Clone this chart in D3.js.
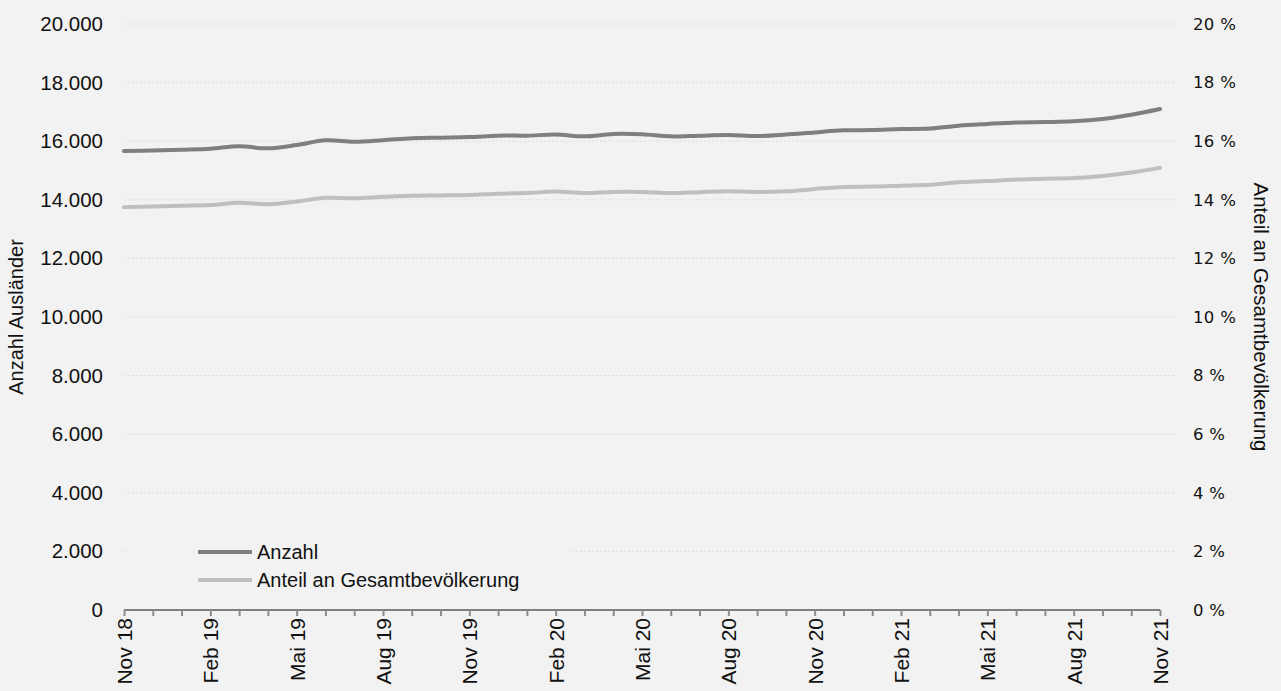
<!DOCTYPE html>
<html><head><meta charset="utf-8">
<script src="https://cdn.jsdelivr.net/npm/d3@7"></script>
<style>
html,body{margin:0;padding:0;background:#f2f2f2;}
svg{display:block;}
</style></head>
<body>
<svg id="chart" width="1281" height="691"></svg>
<script>
const months = ["Nov 18","Dez 18","Jan 19","Feb 19","Mär 19","Apr 19","Mai 19","Jun 19","Jul 19","Aug 19","Sep 19","Okt 19","Nov 19","Dez 19","Jan 20","Feb 20","Mär 20","Apr 20","Mai 20","Jun 20","Jul 20","Aug 20","Sep 20","Okt 20","Nov 20","Dez 20","Jan 21","Feb 21","Mär 21","Apr 21","Mai 21","Jun 21","Jul 21","Aug 21","Sep 21","Okt 21","Nov 21"];
const anzahl = [15665,15680,15710,15745,15825,15757,15870,16030,15985,16035,16100,16120,16140,16190,16190,16225,16165,16245,16235,16165,16190,16210,16175,16225,16300,16370,16380,16415,16430,16530,16590,16640,16655,16680,16760,16905,17100];
const anteil = [13.75,13.77,13.80,13.82,13.90,13.85,13.94,14.07,14.05,14.10,14.14,14.15,14.16,14.21,14.23,14.28,14.23,14.27,14.27,14.23,14.26,14.29,14.27,14.29,14.37,14.44,14.45,14.48,14.51,14.60,14.64,14.69,14.72,14.74,14.81,14.93,15.09];
const leftTicks = [0,2000,4000,6000,8000,10000,12000,14000,16000,18000,20000];
const rightTicks = [0,2,4,6,8,10,12,14,16,18,20];
const seriesNames = ["Anzahl","Anteil an Gesamtbevölkerung"];
const leftTitle = "Anzahl Ausländer";
const rightTitle = "Anteil an Gesamtbevölkerung";

const svg = d3.select("#chart");
const x0 = 124, x1 = 1160, yTop = 24, yBot = 610;
const x = d3.scalePoint().domain(months).range([x0, x1]);
const yL = d3.scaleLinear().domain([0,20000]).range([yBot, yTop]);
const yR = d3.scaleLinear().domain([0,20]).range([yBot, yTop]);

const fmt = v => v === 0 ? "0" : d3.format(",")(v).replace(/,/g, ".");
const sans = "Liberation Sans, Arial, sans-serif";

// gridlines
svg.append("g").selectAll("line").data(leftTicks.filter(d => d > 0)).join("line")
  .attr("x1", x0).attr("x2", 1174)
  .attr("y1", d => yL(d)).attr("y2", d => yL(d))
  .attr("stroke", "#dcdcdc").attr("stroke-width", 1).attr("stroke-dasharray", "2,2");

// left axis labels
const gL = svg.append("g").attr("transform", `translate(${x0},0)`)
  .call(d3.axisLeft(yL).tickValues(leftTicks).tickFormat(fmt).tickSize(0).tickPadding(21));
gL.select(".domain").remove();
gL.selectAll("text").attr("font-family", sans).attr("font-size", 20.5).attr("fill", "#111");

// right axis labels
const gR = svg.append("g").attr("transform", `translate(1174,0)`)
  .call(d3.axisRight(yR).tickValues(rightTicks).tickFormat(d => d + " %").tickSize(0).tickPadding(19));
gR.select(".domain").remove();
gR.selectAll("text").attr("font-family", "DejaVu Sans, sans-serif").attr("font-size", 16.5)
  .attr("letter-spacing", 0.3).attr("fill", "#111");

// x axis
const gX = svg.append("g").attr("transform", `translate(0,${yBot})`)
  .call(d3.axisBottom(x).tickSize(6).tickPadding(8).tickFormat((d,i) => i % 3 === 0 ? d : ""));
gX.select(".domain").attr("d", `M${x0},0H${x1}`).attr("stroke", "#808080").attr("stroke-width", 2);
gX.selectAll(".tick line").attr("stroke", "#8c8c8c").attr("stroke-width", 2);
gX.selectAll("text")
  .attr("font-family", sans).attr("font-size", 21).attr("fill", "#111")
  .attr("transform", "rotate(-90)").attr("text-anchor", "end").attr("dy", "0.35em")
  .attr("x", -8).attr("y", 0);

// axis titles
svg.append("text").attr("transform", `translate(23,${(yTop+yBot)/2}) rotate(-90)`)
  .attr("text-anchor", "middle").attr("font-family", sans)
  .attr("font-size", 20).attr("fill", "#111").text(leftTitle);
svg.append("text").attr("transform", `translate(1254,${(yTop+yBot)/2}) rotate(90)`)
  .attr("text-anchor", "middle").attr("font-family", sans)
  .attr("font-size", 20.5).attr("fill", "#111").text(rightTitle);

// lines
const curve = d3.curveCatmullRom.alpha(0.5);
const lineL = d3.line().x((d,i) => x(months[i])).y(d => yL(d)).curve(curve);
const lineR = d3.line().x((d,i) => x(months[i])).y(d => yR(d)).curve(curve);
svg.append("path").datum(anteil).attr("d", lineR).attr("fill", "none")
  .attr("stroke", "#bfbfbf").attr("stroke-width", 4).attr("stroke-linecap", "round");
svg.append("path").datum(anzahl).attr("d", lineL).attr("fill", "none")
  .attr("stroke", "#7f7f7f").attr("stroke-width", 4).attr("stroke-linecap", "round");

// legend
const lg = svg.append("g");
lg.append("rect").attr("x", 128).attr("y", 534).attr("width", 442).attr("height", 64).attr("fill", "#f2f2f2");
const colors = ["#7f7f7f","#bfbfbf"];
seriesNames.forEach((n,i) => {
  const yy = 552 + i*28;
  lg.append("line").attr("x1", 198).attr("x2", 252).attr("y1", yy).attr("y2", yy)
    .attr("stroke", colors[i]).attr("stroke-width", 4);
  lg.append("text").attr("x", 257).attr("y", yy).attr("dy", "0.35em")
    .attr("font-family", sans).attr("font-size", 20).attr("fill", "#111").text(n);
});
</script>
</body></html>
